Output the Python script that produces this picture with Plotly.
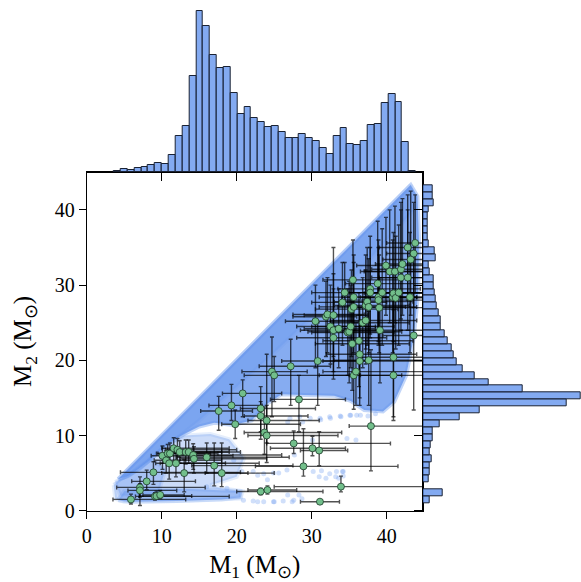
import plotly.graph_objects as go

# ---------------- data ----------------
# top histogram of M1 (bin start, width, counts)
m1_bin_start = 3.62
m1_bin_width = 0.915
m1_counts = [4, 11, 8, 14, 16, 21, 27, 25, 52, 108, 139, 288, 484, 438, 351, 312, 315,
             237, 174, 195, 163, 150, 136, 138, 120, 103, 103, 115, 103, 93, 72, 54,
             108, 133, 86, 81, 93, 141, 146, 207, 234, 210, 91, 3]

# right histogram of M2 (bottom to top)
m2_bin_start = 0.98
m2_bin_width = 0.92
m2_counts = [20, 59, 0, 17, 22, 22, 28, 22, 23, 29, 31, 51, 110, 170, 434, 474, 301,
             197, 155, 119, 103, 94, 86, 76, 67, 53, 55, 49, 43, 40, 36, 32, 32, 20,
             19, 39, 35, 17, 15, 14, 14, 14, 17, 32, 29, 29]

# observed events: M1, M2 and the ends of their error bars
ev_m1 = [5.9, 7.1, 7.1, 8.0, 8.9, 9.1, 9.3, 9.8, 10.1, 10.6, 10.8, 11.0, 11.1, 11.6, 11.9,
         12.1, 12.4, 13.2, 13.6, 14.2, 14.3, 13.0, 16.0, 17.0, 18.0,
         17.6, 19.3, 19.8, 20.8, 23.2, 23.2, 24.0, 23.7, 24.0, 23.2, 24.1, 24.7, 25.0,
         27.2, 27.6, 28.3, 28.9, 30.1, 31.0, 31.1, 33.9,
         30.5, 30.8, 31.9, 32.1, 32.5, 32.9, 32.9, 32.9, 33.6, 34.1, 34.4, 34.8, 35.0,
         35.2, 35.5, 35.6, 35.3, 35.6, 35.4, 35.6, 35.9, 36.3, 36.4, 36.4, 36.8, 37.2,
         37.2, 37.4, 37.6, 37.8, 37.8, 37.6, 37.9, 38.8, 38.9, 38.9, 39.0, 39.1, 39.4,
         39.9, 40.4, 40.8, 40.9, 41.1, 41.2, 40.9, 40.9, 41.6, 41.9, 41.9, 42.1, 42.8,
         42.8, 43.2, 43.1, 43.8, 43.6, 43.6]
ev_m2 = [1.5, 3.1, 2.7, 3.9, 5.1, 1.9, 1.95, 2.1, 7.3, 6.7, 7.6, 6.3, 7.6, 8.3, 6.3,
         8.1, 7.8, 7.8, 7.8, 7.4, 6.9, 5.0, 7.1, 6.0, 5.0,
         13.25, 14.0, 11.5, 15.6, 13.6, 12.6, 12.0, 10.4, 10.0, 2.55, 2.75, 18.5, 18.0,
         19.2, 8.95, 14.8, 5.9, 8.3, 8.0, 1.2, 3.2,
         25.2, 19.9, 25.8, 26.1, 24.5, 24.0, 26.0, 23.0, 24.2, 27.7, 29.0, 23.7, 23.8,
         24.5, 30.7, 28.4, 26.8, 27.1, 22.2, 18.0, 18.5, 22.6, 20.8, 19.9, 25.0, 25.3,
         27.3, 27.8, 27.1, 29.5, 29.0, 20.0, 11.25, 30.2, 28.4, 28.0, 27.0, 24.0, 29.0,
         32.6, 31.8, 28.4, 28.9, 31.8, 28.3, 20.4, 18.0, 29.0, 32.1, 31.0, 32.8, 35.0,
         31.0, 33.4, 28.4, 35.6, 34.2, 23.3]
ev_m1_lo = [3.5, 4.0, 5.5, 6.0, 4.5, 6.5, 7.0, 7.5, 8.6, 9.0, 9.3, 9.2, 9.5, 10.0, 9.8,
            10.5, 10.8, 11.5, 11.8, 12.2, 12.5, 10.0, 12.0, 14.0, 15.8,
            15.2, 16.3, 18.0, 18.1, 20.5, 21.0, 21.5, 21.0, 21.5, 20.0, 21.5, 20.7, 21.0,
            23.0, 24.0, 24.5, 22.5, 24.5, 28.5, 28.5, 25.0,
            26.5, 26.0, 27.5, 27.5, 28.0, 28.5, 29.0, 28.0, 29.0, 30.0, 30.0, 30.0, 29.5,
            30.0, 31.5, 31.0, 30.5, 31.0, 30.5, 31.0, 31.5, 31.5, 32.0, 31.5, 32.5, 32.5,
            33.0, 33.0, 33.5, 33.5, 34.0, 33.0, 35.0, 34.5, 34.0, 34.5, 35.0, 34.5, 35.0,
            36.0, 36.5, 36.5, 37.0, 37.0, 37.0, 36.5, 36.5, 37.5, 38.0, 38.0, 38.5, 39.0,
            39.0, 39.5, 39.0, 40.0, 40.0, 39.5]
ev_m1_hi = [13.2, 15.8, 12.0, 14.5, 20.5, 19.0, 14.0, 13.0, 19.5, 18.0, 16.5, 23.0, 17.5,
            19.0, 18.5, 20.0, 18.0, 20.5, 19.0, 26.0, 24.0, 21.5, 27.0, 27.5, 25.0,
            22.1, 23.4, 28.5, 26.0, 30.5, 29.5, 31.0, 34.0, 33.5, 31.5, 28.0, 29.4, 35.0,
            32.5, 40.5, 34.5, 41.5, 34.5, 34.8, 33.7, 46.0,
            36.5, 38.0, 36.0, 37.0, 38.5, 39.0, 37.5, 40.0, 38.5, 40.0, 40.5, 41.0, 42.0,
            41.0, 42.0, 44.0, 41.5, 42.5, 43.0, 42.0, 46.0, 43.5, 44.0, 46.0, 43.0, 44.0,
            43.0, 43.5, 44.0, 44.5, 46.0, 46.0, 46.0, 46.0, 44.0, 46.0, 46.0, 46.0, 46.0,
            46.0, 46.0, 46.0, 46.0, 46.0, 46.0, 46.0, 46.0, 46.0, 46.0, 46.0, 46.0, 46.0,
            46.0, 46.0, 46.0, 46.0, 46.0, 46.0]
ev_m2_lo = [0.9, 0.7, 1.8, 2.8, 3.5, 1.4, 1.5, 1.6, 5.5, 5.0, 6.0, 4.2, 6.2, 6.5, 4.5,
            6.5, 6.3, 6.2, 6.3, 5.5, 5.0, 2.5, 5.0, 3.3, 3.2,
            10.7, 12.0, 9.6, 12.5, 10.5, 9.5, 9.0, 7.5, 6.4, 2.1, 2.2, 12.5, 14.5,
            14.0, 7.6, 10.5, 4.6, 7.3, 6.0, 1.0, 2.5,
            19.0, 14.0, 20.5, 21.0, 19.5, 18.5, 20.5, 17.5, 19.0, 22.0, 24.0, 18.0, 17.0,
            19.0, 24.0, 22.0, 20.5, 21.0, 16.0, 13.5, 14.0, 16.5, 15.0, 14.0, 19.0, 19.5,
            21.5, 22.0, 21.0, 23.0, 23.5, 14.0, 5.3, 24.0, 22.0, 22.5, 21.0, 17.0, 22.0,
            26.0, 25.0, 21.0, 22.5, 25.0, 21.5, 12.0, 12.5, 22.0, 25.5, 24.0, 26.0, 28.0,
            24.0, 26.0, 21.0, 29.0, 27.0, 13.4]
ev_m2_hi = [2.2, 4.5, 3.6, 5.4, 6.5, 2.4, 2.6, 2.7, 8.6, 8.0, 8.8, 7.9, 9.0, 9.7, 8.0,
            9.6, 9.3, 9.4, 9.4, 8.9, 8.5, 6.8, 9.0, 9.0, 9.0,
            15.2, 16.8, 13.4, 17.4, 16.5, 14.5, 14.0, 13.8, 20.8, 3.0, 3.3, 23.1, 20.5,
            22.8, 10.6, 18.0, 10.9, 9.9, 10.5, 1.4, 4.6,
            30.0, 25.0, 30.5, 31.0, 30.0, 29.5, 31.5, 35.0, 29.5, 33.0, 33.0, 29.5, 30.5,
            30.0, 36.0, 34.0, 32.0, 33.0, 28.5, 24.0, 25.0, 29.0, 27.0, 26.0, 31.0, 32.0,
            34.0, 35.0, 33.5, 36.5, 35.0, 26.5, 21.4, 38.5, 36.0, 35.0, 34.0, 31.0, 37.5,
            39.0, 40.0, 36.0, 37.0, 40.5, 36.5, 29.0, 26.7, 38.0, 41.0, 40.0, 41.5, 42.0,
            40.0, 42.5, 37.0, 42.0, 41.0, 34.6]

# outline of the dense posterior cloud (M1, M2)
cloud_core_m1 = [4.2, 43.2, 44.1, 44.3, 44.2, 43.6, 42.6, 41.0, 39.5, 37.0, 35.2, 33.0,
                 29.0, 26.0, 24.0, 22.0, 19.5, 17.0, 15.0, 13.0, 11.5, 10.0, 8.5, 7.0, 5.5]
cloud_core_m2 = [4.2, 43.3, 41.8, 36.0, 29.0, 23.0, 18.0, 14.5, 13.2, 13.4, 14.6, 15.3,
                 15.4, 15.5, 14.2, 12.0, 11.4, 11.7, 11.2, 10.2, 9.3, 8.2, 6.8, 5.6, 4.6]
# denser band along the diagonal
cloud_band_m1 = [4.2, 43.2, 43.6, 36.0, 25.0, 15.0, 8.0, 5.0]
cloud_band_m2 = [4.2, 43.3, 40.0, 31.5, 21.0, 12.0, 6.4, 4.4]
# lighter lower region at low masses
cloud_low_m1 = [3.6, 3.8, 5.0, 12.0, 20.5, 20.8, 18.0, 16.5, 20.0, 21.0, 19.0, 16.5, 13.0,
                10.0, 7.0, 4.5]
cloud_low_m2 = [3.4, 1.6, 1.2, 1.3, 1.6, 2.6, 3.0, 3.4, 4.5, 7.0, 9.5, 10.2, 10.0, 8.2,
                5.5, 4.2]
# low-M2 band
cloud_strip_m1 = [4.2, 6.0, 12.0, 18.0, 20.5, 20.5, 14.0, 8.0, 5.0]
cloud_strip_m2 = [1.4, 1.2, 1.3, 1.5, 1.8, 2.6, 2.9, 2.9, 2.6]
# low-mass tail joining the band and the diagonal
cloud_tail_m1 = [3.8, 4.5, 9.5, 10.5, 8.5, 6.0]
cloud_tail_m2 = [3.8, 2.0, 2.2, 5.5, 7.0, 5.0]
# isolated sparse samples
sparse_m1 = [20.9, 22.2, 23.6, 24.9, 26.2, 27.6, 28.7, 30.2, 31.3, 32.4, 33.3, 34.2, 33.6,
             34.2, 26.7, 24.9, 23.6, 22.2, 20.7, 36.0, 35.1, 33.8, 32.4, 31.1, 29.8, 28.4,
             27.1, 26.8, 28.8, 31.2, 32.5, 33.9, 35.2, 36.5, 27.7, 30.1, 34.7, 35.9, 31.0,
             31.9, 33.2, 34.1, 22.8, 24.1, 25.6, 26.8, 28.3, 22.8, 25.0, 27.4, 17.3, 19.6,
             16.0, 18.7, 37.5, 38.5]
sparse_m2 = [1.4, 1.3, 1.2, 1.2, 1.3, 1.4, 1.6, 5.2, 5.3, 4.9, 5.2, 5.2, 4.3, 4.6, 5.4,
             5.0, 4.9, 5.2, 5.2, 12.7, 12.7, 12.6, 12.5, 12.3, 12.3, 12.5, 12.3, 11.8,
             11.8, 12.1, 12.3, 12.5, 12.7, 12.7, 7.4, 9.4, 9.6, 9.4, 4.5, 4.3, 4.5, 5.2,
             4.7, 4.1, 5.0, 2.1, 2.1, 1.2, 1.2, 1.2, 6.3, 6.7, 3.2, 3.0, 12.6, 12.9]

axis_ticks = [0, 10, 20, 30, 40]

# ---------------- figure ----------------
FONT = "Liberation Serif, Times New Roman, serif"

fig = go.Figure()


def poly(xs, ys, alpha):
    return go.Scatter(x=xs + xs[:1], y=ys + ys[:1], mode="lines", fill="toself",
                      fillcolor=f"rgba(100,149,237,{alpha})",
                      line=dict(color=f"rgba(100,149,237,{alpha*0.5})", width=4),
                      hoverinfo="skip", showlegend=False, xaxis="x", yaxis="y")


fig.add_trace(poly(cloud_low_m1, cloud_low_m2, 0.33))
fig.add_trace(poly(cloud_tail_m1, cloud_tail_m2, 0.35))
fig.add_trace(poly(cloud_strip_m1, cloud_strip_m2, 0.45))
fig.add_trace(poly(cloud_core_m1, cloud_core_m2, 0.78))
fig.add_trace(poly(cloud_band_m1, cloud_band_m2, 0.3))
fig.add_trace(go.Scatter(x=sparse_m1, y=sparse_m2, mode="markers",
                         marker=dict(size=5, color="rgba(100,149,237,0.3)"),
                         hoverinfo="skip", showlegend=False))

ex_plus = [h - v for h, v in zip(ev_m1_hi, ev_m1)]
ex_minus = [v - l for l, v in zip(ev_m1_lo, ev_m1)]
ey_plus = [h - v for h, v in zip(ev_m2_hi, ev_m2)]
ey_minus = [v - l for l, v in zip(ev_m2_lo, ev_m2)]

fig.add_trace(go.Scatter(
    x=ev_m1, y=ev_m2, mode="markers",
    marker=dict(size=7, color="#72bf8b", line=dict(color="#1d3a2a", width=0.8)),
    error_x=dict(type="data", array=ex_plus, arrayminus=ex_minus,
                 color="rgba(0,0,0,0.68)", thickness=1.4, width=2),
    error_y=dict(type="data", array=ey_plus, arrayminus=ey_minus,
                 color="rgba(0,0,0,0.68)", thickness=1.4, width=2),
    showlegend=False, xaxis="x", yaxis="y"))

# histograms
m1_centers = [m1_bin_start + (i + 0.5) * m1_bin_width for i in range(len(m1_counts))]
m2_centers = [m2_bin_start + (i + 0.5) * m2_bin_width for i in range(len(m2_counts))]

fig.add_trace(go.Bar(x=m1_centers, y=m1_counts, width=[m1_bin_width] * len(m1_counts),
                     marker=dict(color="rgba(100,149,237,0.8)",
                                 line=dict(color="#1a2233", width=1)),
                     showlegend=False, xaxis="x2", yaxis="y2"))
fig.add_trace(go.Bar(y=m2_centers, x=m2_counts, width=[m2_bin_width] * len(m2_counts),
                     orientation="h",
                     marker=dict(color="rgba(100,149,237,0.8)",
                                 line=dict(color="#1a2233", width=1)),
                     showlegend=False, xaxis="x3", yaxis="y3"))

W, H = 581, 582
xd = [86.7 / W, 422.7 / W]
yd = [1 - 510.7 / H, 1 - 172.3 / H]

common = dict(showgrid=False, zeroline=False, showline=True, linecolor="black",
              linewidth=1, ticks="outside", tickcolor="black", tickwidth=1,
              automargin=False)

fig.update_layout(
    width=W, height=H, margin=dict(l=0, r=0, t=0, b=0, autoexpand=False),
    paper_bgcolor="white", plot_bgcolor="rgba(0,0,0,0)",
    font=dict(family=FONT, color="black"), bargap=0,
    xaxis=dict(domain=xd, range=[0, 44.8], anchor="y", tickvals=axis_ticks, ticklen=7,
               mirror=True, tickfont=dict(size=20),
               title=dict(text="M<sub>1</sub> (M<sub>⊙</sub>)", font=dict(size=25),
                          standoff=10), **common),
    yaxis=dict(domain=yd, range=[0, 45], anchor="x", tickvals=axis_ticks, ticklen=7,
               mirror=True, tickfont=dict(size=20),
               title=dict(text="M<sub>2</sub> (M<sub>⊙</sub>)", font=dict(size=25),
                          standoff=15), **common),
    xaxis2=dict(domain=xd, range=[0, 44.8], anchor="y2", tickvals=axis_ticks, ticklen=8,
                showticklabels=False, **common),
    yaxis2=dict(domain=[yd[1], 1.0], range=[0, 517], anchor="x2", visible=False),
    xaxis3=dict(domain=[xd[1], 1.0], range=[0, 476], anchor="y3", visible=False),
    yaxis3=dict(domain=yd, range=[0, 45], anchor="x3", tickvals=axis_ticks, ticklen=8,
                showticklabels=False, **common),
)

fig.write_html("out.html", config={"displayModeBar": False},
               post_script="document.body.style.margin='0';"
                           "document.body.style.overflow='hidden';")
